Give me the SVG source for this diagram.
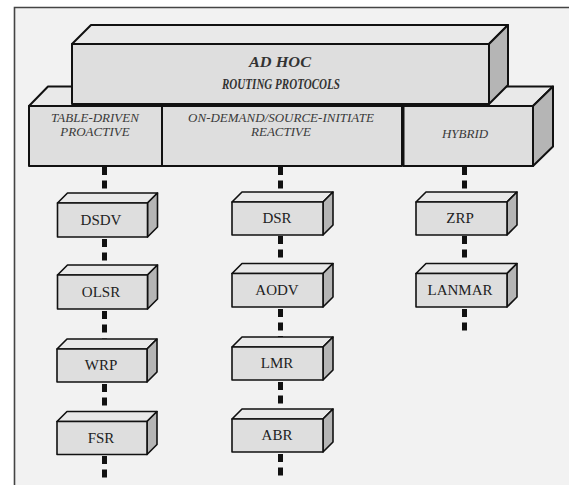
<svg xmlns="http://www.w3.org/2000/svg" width="569" height="485" viewBox="0 0 569 485">
<style>
.front{fill:#dedede;stroke:#111;stroke-width:2;stroke-linejoin:round}
.top{fill:#e9e9e9;stroke:#111;stroke-width:2;stroke-linejoin:round}
.side{fill:#b5b5b5;stroke:#111;stroke-width:2;stroke-linejoin:round}
.sf{fill:#dedede;stroke:#111;stroke-width:1.6;stroke-linejoin:round}
.st{fill:#e9e9e9;stroke:#111;stroke-width:1.6;stroke-linejoin:round}
.ss{fill:#b5b5b5;stroke:#111;stroke-width:1.6;stroke-linejoin:round}
.head{font-family:"Liberation Serif","Times New Roman",serif;font-style:italic;font-weight:bold;font-size:15px;fill:#333;text-anchor:middle}
.tier{font-family:"Liberation Serif","Times New Roman",serif;font-style:italic;font-size:13px;fill:#3a3a3a;text-anchor:middle}
.lbl{font-family:"Liberation Serif","Times New Roman",serif;font-size:15px;fill:#222;text-anchor:middle}
.dash{stroke:#111;stroke-width:5;stroke-dasharray:8 5.5;fill:none}
</style>
<rect x="0" y="0" width="569" height="485" fill="#ffffff"/>
<rect x="14.5" y="7.5" width="555" height="478" fill="#f2f2f2"/>
<path d="M14.5 485 V7.5 H569" fill="none" stroke="#444" stroke-width="1.6"/>

<g id="connectors">
<path class="dash" d="M104.5 167 V193 M104.5 239 V266 M104.5 311 V338.5 M104.5 384 V411 M104.5 456 V478"/>
<path class="dash" d="M280.5 167 V192 M280.5 236 V263.5 M280.5 309 V337 M280.5 382 V409 M280.5 454 V476"/>
<path class="dash" d="M464.5 167 V192 M464.5 236 V263.5 M464.5 309 V333"/>
</g>

<g id="tier-slab">
<polygon class="top" points="29,106 48,86.5 553,86.5 533,106"/>
<polygon class="side" points="533,106 553,86.5 553,146.5 533,166"/>
</g>

<g id="adhoc">
<polygon class="top" points="72,44 91,25 508,25 489,44"/>
<polygon class="side" points="489,44 508,25 508,85 489,104"/>
<rect class="front" x="72" y="44" width="417" height="60"/>
<text class="head" x="280" y="67" textLength="62" lengthAdjust="spacingAndGlyphs">AD HOC</text>
<text class="head" x="281" y="89" textLength="118" lengthAdjust="spacingAndGlyphs">ROUTING PROTOCOLS</text>
</g>

<g id="proactive">
<rect class="front" x="29" y="106" width="133" height="60"/>
<text class="tier" x="95" y="121.5">TABLE-DRIVEN</text>
<text class="tier" x="95" y="136">PROACTIVE</text>
</g>

<g id="reactive">
<rect class="front" x="162" y="106" width="240" height="60"/>
<text class="tier" x="281" y="121.5">ON-DEMAND/SOURCE-INITIATE</text>
<text class="tier" x="281" y="136">REACTIVE</text>
</g>

<g id="hybrid">
<rect class="front" x="403.5" y="106" width="129.5" height="60"/>
<text class="tier" x="465" y="138">HYBRID</text>
</g>

<g id="dsdv">
<polygon class="st" points="57.5,203 67.5,193 157.5,193 147.5,203"/>
<polygon class="ss" points="147.5,203 157.5,193 157.5,227 147.5,237"/>
<rect class="sf" x="57.5" y="203" width="90" height="34"/>
<text class="lbl" x="101" y="224.5">DSDV</text>
</g>
<g id="olsr">
<polygon class="st" points="57.5,275 67.5,265 157.5,265 147.5,275"/>
<polygon class="ss" points="147.5,275 157.5,265 157.5,299 147.5,309"/>
<rect class="sf" x="57.5" y="275" width="90" height="34"/>
<text class="lbl" x="101" y="296.5">OLSR</text>
</g>
<g id="wrp">
<polygon class="st" points="57,349 67,339 157,339 147,349"/>
<polygon class="ss" points="147,349 157,339 157,372 147,382"/>
<rect class="sf" x="57" y="349" width="90" height="33"/>
<text class="lbl" x="101" y="370">WRP</text>
</g>
<g id="fsr">
<polygon class="st" points="57,421.5 67,411.5 157,411.5 147,421.5"/>
<polygon class="ss" points="147,421.5 157,411.5 157,444.5 147,454.5"/>
<rect class="sf" x="57" y="421.5" width="90" height="33"/>
<text class="lbl" x="101" y="442.5">FSR</text>
</g>

<g id="dsr">
<polygon class="st" points="232,202 242,192 333,192 323,202"/>
<polygon class="ss" points="323,202 333,192 333,225 323,235"/>
<rect class="sf" x="232" y="202" width="91" height="33"/>
<text class="lbl" x="277" y="223">DSR</text>
</g>
<g id="aodv">
<polygon class="st" points="232,273.5 242,263.5 333,263.5 323,273.5"/>
<polygon class="ss" points="323,273.5 333,263.5 333,297 323,307"/>
<rect class="sf" x="232" y="273.5" width="91" height="33.5"/>
<text class="lbl" x="277" y="295">AODV</text>
</g>
<g id="lmr">
<polygon class="st" points="232,347 242,337 333,337 323,347"/>
<polygon class="ss" points="323,347 333,337 333,370 323,380"/>
<rect class="sf" x="232" y="347" width="91" height="33"/>
<text class="lbl" x="277" y="368">LMR</text>
</g>
<g id="abr">
<polygon class="st" points="232,419 242,409 333,409 323,419"/>
<polygon class="ss" points="323,419 333,409 333,442 323,452"/>
<rect class="sf" x="232" y="419" width="91" height="33"/>
<text class="lbl" x="277" y="440">ABR</text>
</g>

<g id="zrp">
<polygon class="st" points="416,202 426,192 517,192 507,202"/>
<polygon class="ss" points="507,202 517,192 517,225 507,235"/>
<rect class="sf" x="416" y="202" width="91" height="33"/>
<text class="lbl" x="460" y="223">ZRP</text>
</g>
<g id="lanmar">
<polygon class="st" points="416,273.5 426,263.5 517,263.5 507,273.5"/>
<polygon class="ss" points="507,273.5 517,263.5 517,297 507,307"/>
<rect class="sf" x="416" y="273.5" width="91" height="33.5"/>
<text class="lbl" x="460" y="295">LANMAR</text>
</g>
</svg>
